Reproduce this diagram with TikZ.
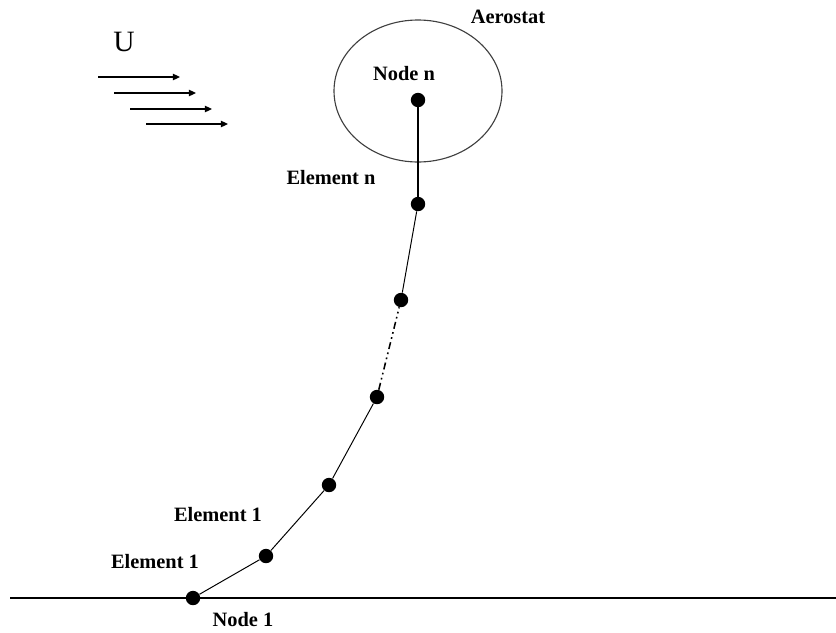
\documentclass[tikz,border=0pt]{standalone}
\usepackage{fontspec}
\setmainfont{Liberation Serif}
\usetikzlibrary{arrows.meta}
\tikzset{
  knot/.style   = {circle, fill, inner sep=0pt, minimum size=0.36cm},
  blab/.style   = {font=\fontsize{14.5}{16}\selectfont\bfseries, inner sep=0pt},
  cable/.style  = {line width=0.7pt},
  gap/.style    = {line width=1.1pt, dash pattern=on 5pt off 2.5pt on 1.2pt off 2.5pt on 1.2pt off 2.5pt},
  wind/.style   = {line width=0.9pt, -{Triangle[length=5pt, width=4.5pt]}},
}
\begin{document}
\begin{tikzpicture}[x=0.025cm, y=-0.025cm]
\useasboundingbox (0,0) rectangle (836,632);
% ground
\draw[line width=1.3pt] (10,598) -- (836,598);
% balloon
\draw[line width=0.8pt, black!75] (418,91) ellipse [x radius=84, y radius=71];
% nodes of the cable
\node[knot] (n1) at (193,598) {};
\node[knot] (n2) at (266,556) {};
\node[knot] (n3) at (329,485) {};
\node[knot] (n4) at (377,397) {};
\node[knot] (n5) at (401,300) {};
\node[knot] (n6) at (418,204) {};
\node[knot] (nn) at (418,100) {};
\draw[cable] (n1) -- (n2) -- (n3) -- (n4);
\draw[gap] (n4) -- (n5);
\draw[cable] (n5) -- (n6);
\draw[line width=0.9pt] (n6) -- (nn);
% labels
\node[blab] (aero) at (508,17)  {Aerostat};
\node[blab] (ln)   at (404,74)  {Node n};
\node[blab] (le)   at (331,178) {Element n};
\node[blab] (la)   at (218,515) {Element 1};
\node[blab] (lb)   at (155,562) {Element 1};
\node[blab] (l1)   at (243,620) {Node 1};
\node[font=\fontsize{21}{24}\selectfont, inner sep=0pt] (u) at (124,42) {U};
% wind
\foreach \i/\y in {0/77, 1/93, 2/109, 3/124} {
  \coordinate (ws\i) at (98+16*\i,\y);
  \coordinate (we\i) at (180+16*\i,\y);
  \draw[wind] (ws\i) -- (we\i);
}
\end{tikzpicture}
\end{document}
